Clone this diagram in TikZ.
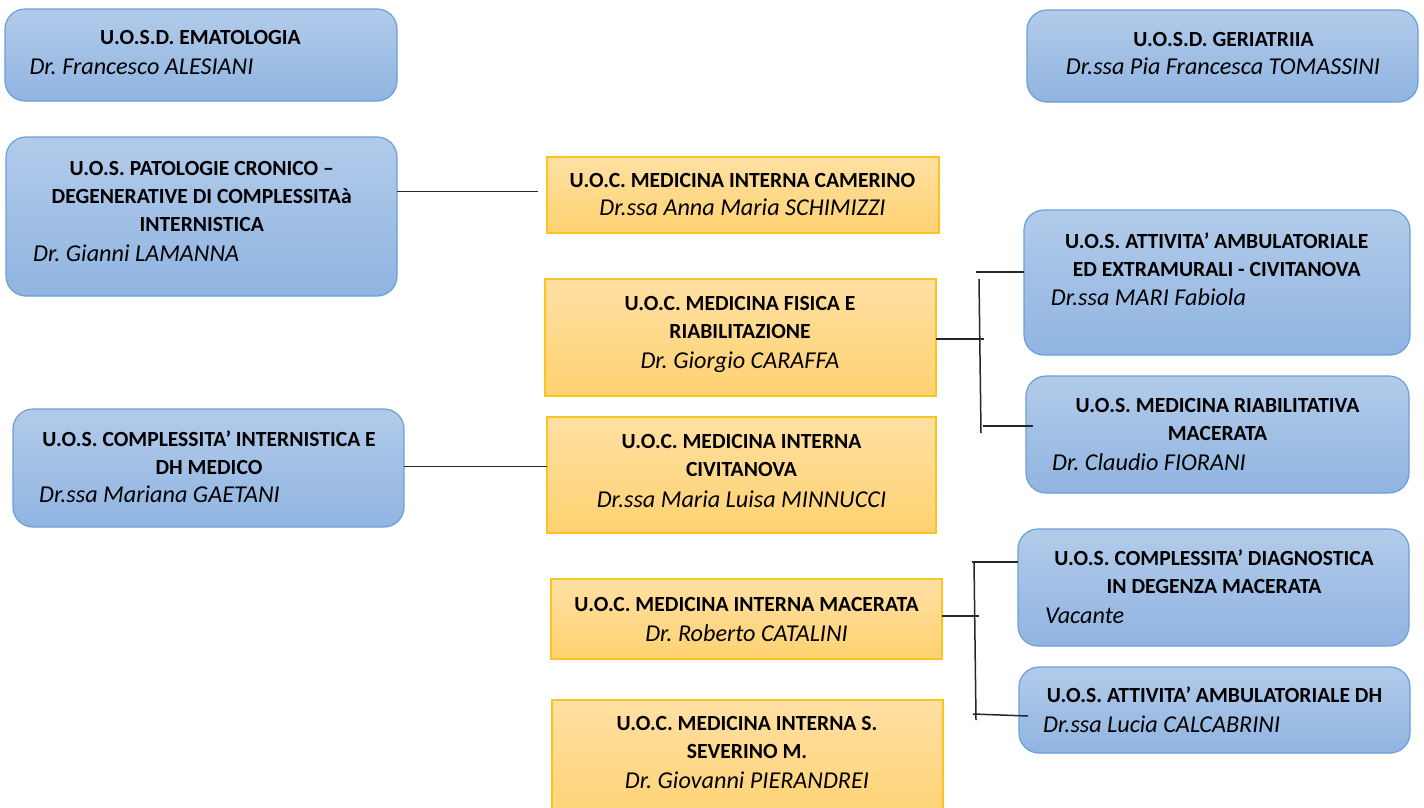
\documentclass[tikz,border=0pt]{standalone}
\usepackage{fontspec}
\setmainfont{Carlito}
\frenchspacing
\definecolor{bluetop}{HTML}{B2CBEA}
\definecolor{bluebot}{HTML}{90B4E1}
\definecolor{blueline}{HTML}{6A9FD8}
\definecolor{ortop}{HTML}{FFE0A3}
\definecolor{orbot}{HTML}{FFD271}
\definecolor{orline}{HTML}{FFC31F}
\tikzset{
  bluebox/.style={draw=blueline, line width=1.2pt, rounded corners=20pt, top color=bluetop, bottom color=bluebot, inner sep=0pt, outer sep=0pt, anchor=north west},
  orbox/.style={draw=orline, line width=1.4pt, top color=ortop, bottom color=orbot, inner sep=0pt, outer sep=0pt, anchor=north west},
  ttl/.style={font=\bfseries\fontsize{21.6}{28}\selectfont, align=center, inner sep=0pt, anchor=base},
  nm/.style={font=\itshape\fontsize{24.2}{28}\selectfont, inner sep=0pt},
  link/.style={draw=black!85, line width=1.5pt}
}
\begin{document}
\begin{tikzpicture}[x=1pt,y=-1pt]
\useasboundingbox (0,0) rectangle (1424,807);
% ---- boxes ----
\node[bluebox, minimum width=392pt, minimum height=92pt] (ema) at (5,9) {};
\node[bluebox, minimum width=391pt, minimum height=92pt] (ger) at (1027,10) {};
\node[bluebox, minimum width=391pt, minimum height=159pt] (pat) at (6,137) {};
\node[bluebox, minimum width=391pt, minimum height=118pt] (cin) at (13,409) {};
\node[orbox, minimum width=392pt, minimum height=76pt] (cam) at (547,157) {};
\node[orbox, minimum width=391pt, minimum height=117pt] (fis) at (545,279) {};
\node[orbox, minimum width=389pt, minimum height=116pt] (civ) at (547,417) {};
\node[orbox, minimum width=391pt, minimum height=80pt] (mac) at (551,579) {};
\node[orbox, minimum width=391pt, minimum height=130pt] (sev) at (552,700) {};
\node[bluebox, minimum width=386pt, minimum height=145pt] (amb) at (1024,210) {};
\node[bluebox, minimum width=383pt, minimum height=117pt] (ria) at (1026,376) {};
\node[bluebox, minimum width=391pt, minimum height=117pt] (dia) at (1018,529) {};
\node[bluebox, minimum width=391pt, minimum height=86pt] (adh) at (1019,667) {};
% ---- texts (anchor = baseline of last line) ----
\node[ttl] (ema-t) at (200.5,44) {U.O.S.D. EMATOLOGIA};
\node[nm, anchor=base west] (ema-n) at (29.3,74.5) {Dr. Francesco ALESIANI};
\node[ttl] (ger-t) at (1223.5,46) {U.O.S.D. GERIATRIIA};
\node[nm, anchor=base] (ger-n) at (1223,74.5) {Dr.ssa Pia Francesca TOMASSINI};
\node[ttl] (pat-t) at (201.7,231.5) {U.O.S. PATOLOGIE CRONICO –\\DEGENERATIVE DI COMPLESSITAà\\INTERNISTICA};
\node[nm, anchor=base west] (pat-n) at (33,261.5) {Dr. Gianni LAMANNA};
\node[ttl] (cin-t) at (209,474.5) {U.O.S. COMPLESSITA’ INTERNISTICA E\\DH MEDICO};
\node[nm, anchor=base west] (cin-n) at (39,502.2) {Dr.ssa Mariana GAETANI};
\node[ttl] (cam-t) at (742.5,187.5) {U.O.C. MEDICINA INTERNA CAMERINO};
\node[nm, anchor=base] (cam-n) at (742.5,215.5) {Dr.ssa Anna Maria SCHIMIZZI};
\node[ttl] (fis-t) at (740,338.2) {U.O.C. MEDICINA FISICA E\\RIABILITAZIONE};
\node[nm, anchor=base] (fis-n) at (740,368.2) {Dr. Giorgio CARAFFA};
\node[ttl] (civ-t) at (741.5,476.5) {U.O.C. MEDICINA INTERNA\\CIVITANOVA};
\node[nm, anchor=base] (civ-n) at (741.5,507.2) {Dr.ssa Maria Luisa MINNUCCI};
\node[ttl] (mac-t) at (746.5,611) {U.O.C. MEDICINA INTERNA MACERATA};
\node[nm, anchor=base] (mac-n) at (746.5,641) {Dr. Roberto CATALINI};
\node[ttl] (sev-t) at (747,758.5) {U.O.C. MEDICINA INTERNA S.\\SEVERINO M.};
\node[nm, anchor=base] (sev-n) at (747,788.5) {Dr. Giovanni PIERANDREI};
\node[ttl] (amb-t) at (1216.7,276.5) {U.O.S. ATTIVITA’ AMBULATORIALE\\ED EXTRAMURALI - CIVITANOVA};
\node[nm, anchor=base west] (amb-n) at (1050.7,305.5) {Dr.ssa MARI Fabiola};
\node[ttl] (ria-t) at (1217.5,440) {U.O.S. MEDICINA RIABILITATIVA\\MACERATA};
\node[nm, anchor=base west] (ria-n) at (1052,470) {Dr. Claudio FIORANI};
\node[ttl] (dia-t) at (1214,593.5) {U.O.S. COMPLESSITA’ DIAGNOSTICA\\IN DEGENZA MACERATA};
\node[nm, anchor=base west] (dia-n) at (1045,623.5) {Vacante};
\node[ttl] (adh-t) at (1214.5,702.2) {U.O.S. ATTIVITA’ AMBULATORIALE DH};
\node[nm, anchor=base west] (adh-n) at (1043,732.2) {Dr.ssa Lucia CALCABRINI};
% ---- connectors ----
\coordinate (p1) at (538,191.7);
\draw[link] (pat.east |- p1) -- (p1);
\coordinate (p2) at (0,466.7);
\draw[link] (cin.east |- p2) -- (civ.west |- p2);
% medicina fisica group
\coordinate (f-top) at (976,272);
\coordinate (f-v1) at (979,279);
\coordinate (f-v2) at (981,433);
\coordinate (f-mid) at (984,339);
\coordinate (f-bot) at (983,426);
\coordinate (f-bot2) at (1033,426);
\draw[link] (f-top) -- (amb.west |- f-top);
\draw[link] (f-v1) -- (f-v2);
\draw[link] (fis.east |- f-mid) -- (f-mid);
\draw[link] (f-bot) -- (f-bot2);
% macerata group
\coordinate (m-top) at (972,562);
\coordinate (m-v1) at (974,561);
\coordinate (m-v2) at (976,720);
\coordinate (m-mid) at (979,616);
\coordinate (m-bot) at (973,714);
\coordinate (m-bot2) at (1028,716);
\draw[link] (m-top) -- (dia.west |- m-top);
\draw[link] (m-v1) -- (m-v2);
\draw[link] (mac.east |- m-mid) -- (m-mid);
\draw[link] (m-bot) -- (m-bot2);
\end{tikzpicture}
\end{document}
